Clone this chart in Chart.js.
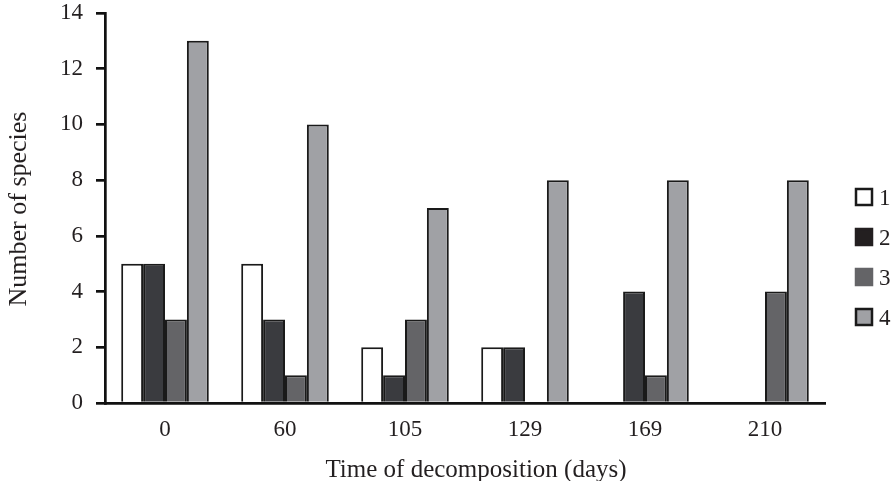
<!DOCTYPE html>
<html lang="en">
<head>
<meta charset="UTF-8">
<title>Number of species over decomposition time</title>
<script src="https://cdn.jsdelivr.net/npm/chart.js@4/dist/chart.umd.min.js"></script>
<style>
    * { margin: 0; padding: 0; box-sizing: border-box; }
    body { background: #fff; width: 894px; height: 481px; overflow: hidden; }
    .wrap { position: relative; width: 894px; height: 481px; }
</style>
</head>
<body>
<div class="wrap"><canvas id="chart" width="894" height="481"></canvas></div>
<script>
    // data
    const days = ['0', '60', '105', '129', '169', '210'];
    const group1 = [5, 5, 2, 2, 0, 0];
    const group2 = [5, 3, 1, 2, 4, 0];
    const group3 = [3, 1, 3, 0, 1, 4];
    const group4 = [13, 10, 7, 8, 8, 8];
    const seriesNames = ['1', '2', '3', '4'];
    const yTicks = [0, 2, 4, 6, 8, 10, 12, 14];
    const xTitle = 'Time of decomposition (days)';
    const yTitle = 'Number of species';

    const fills = ['#ffffff', '#3a3b3f', '#646467', '#a0a1a5'];
    // legend swatches are a touch different from the bars in the original
    const swatchFills = ['#ffffff', '#231f20', '#646467', '#a0a1a5'];
    const swatchEdges = ['#1a1a1a', '#231f20', '#646467', '#1a1a1a'];
    const serif = "'Liberation Serif', 'DejaVu Serif', serif";

    // legend and axis titles drawn by hand
    const extras = {
        id: 'extras',
        afterDraw(chart) {
            const ctx = chart.ctx;
            const x = chart.chartArea.right + 31;
            ctx.save();
            ctx.font = '23px ' + serif;
            ctx.textBaseline = 'alphabetic';
            chart.data.datasets.forEach((ds, i) => {
                const cy = 197 + i * 40;
                ctx.fillStyle = swatchFills[i];
                ctx.fillRect(x, cy - 8, 16, 16);
                ctx.lineWidth = 2.5;
                ctx.strokeStyle = swatchEdges[i];
                ctx.strokeRect(x, cy - 8, 16, 16);
                ctx.fillStyle = '#231f20';
                ctx.fillText(ds.label, x + 23, cy + 8);
            });

            ctx.textAlign = 'center';
            ctx.font = '25px ' + serif;
            ctx.fillText(xTitle, 476, 477);

            ctx.translate(26, 209);
            ctx.rotate(-Math.PI / 2);
            ctx.font = '26px ' + serif;
            ctx.fillText(yTitle, 0, 0);
            ctx.restore();
        }
    };

    const sets = [group1, group2, group3, group4].map((vals, i) => ({
        label: seriesNames[i],
        data: vals,
        backgroundColor: fills[i],
        borderColor: '#1a1a1a',
        borderWidth: 2,
        borderSkipped: 'bottom',
        categoryPercentage: 0.73,
        barPercentage: 1
    }));

    new Chart(document.getElementById('chart'), {
        type: 'bar',
        data: { labels: days, datasets: sets },
        options: {
            responsive: false,
            animation: false,
            layout: { padding: { left: 0, right: 69, top: 0, bottom: 0 } },
            plugins: {
                legend: { display: false },
                tooltip: { enabled: false }
            },
            scales: {
                x: {
                    afterFit: axis => { axis.height = 78; },
                    grid: { display: false, drawTicks: false },
                    border: { display: true, color: '#111', width: 2.7 },
                    ticks: { color: '#231f20', padding: 13, font: { family: serif, size: 23 } }
                },
                y: {
                    min: 0,
                    max: 14,
                    afterFit: axis => {
                        axis.width = 105;
                        axis.paddingTop = 13;
                    },
                    afterBuildTicks: axis => { axis.ticks = yTicks.map(v => ({ value: v })); },
                    grid: { drawOnChartArea: false, drawTicks: true, tickLength: 9, color: '#111', lineWidth: 2.7 },
                    border: { display: true, color: '#111', width: 2.7 },
                    ticks: { color: '#231f20', padding: 13, font: { family: serif, size: 23 } }
                }
            }
        },
        plugins: [extras]
    });
</script>
</body>
</html>
